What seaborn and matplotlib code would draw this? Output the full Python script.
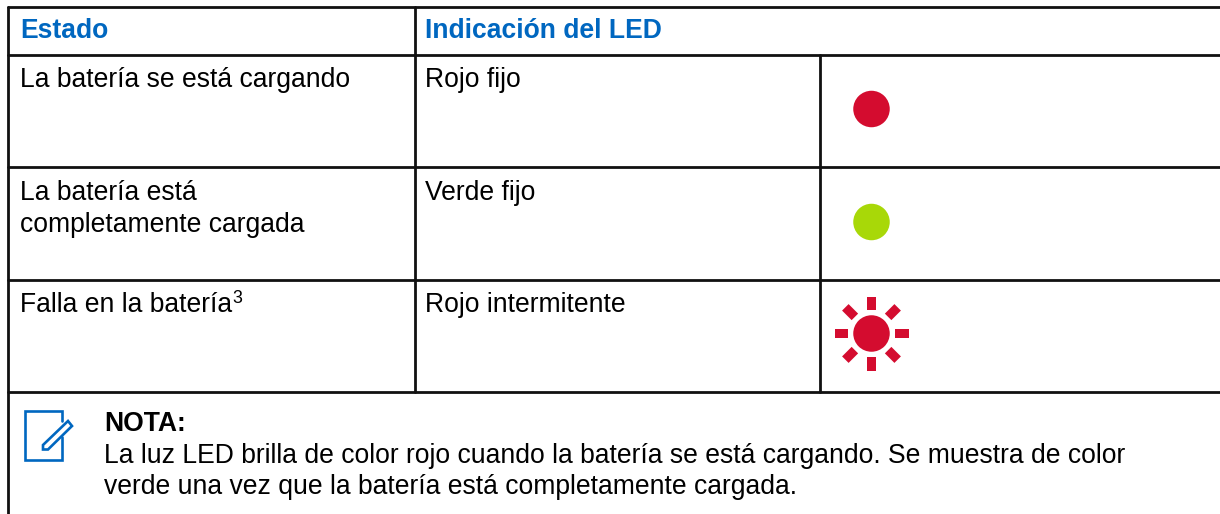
import numpy as np
import pandas as pd
import matplotlib
matplotlib.use("Agg")
import matplotlib.pyplot as plt
from matplotlib.patches import Polygon
from matplotlib.lines import Line2D
import seaborn as sns

headers = ["Estado", "Indicación del LED"]
estado = ["La batería se está cargando", "La batería está\ncompletamente cargada", "Falla en la batería"]
indicacion = ["Rojo fijo", "Verde fijo", "Rojo intermitente"]
led_colors = ["#D40C2F", "#A8D808", "#D40C2F"]
blinking = [False, False, True]
nota_title = "NOTA:"
nota_lines = ["La luz LED brilla de color rojo cuando la batería se está cargando. Se muestra de color",
              "verde una vez que la batería está completamente cargada."]

sns.set_theme(style="white")
plt.rcParams['font.family'] = ['Liberation Sans', 'DejaVu Sans']

W, H = 1220, 514
fig = plt.figure(figsize=(W/100, H/100), dpi=100)
ax = fig.add_axes([0, 0, 1, 1])

ink = "#111111"; blue = "#0067C0"
FS = 19.1
lw = 2.0

df = pd.DataFrame({"x": [871.5]*3, "y": [109, 222, 333.5], "state": ["a", "b", "c"]})
sns.scatterplot(data=df, x="x", y="y", hue="state", palette=led_colors, s=(36.5*0.72)**2,
                linewidth=0, legend=False, ax=ax, clip_on=False)
ax.set_xlim(0, W); ax.set_ylim(H, 0); ax.axis("off")

for y in [7, 55, 167, 280, 392]:
    ax.add_line(Line2D([8, W], [y, y], color=ink, lw=lw))
ax.add_line(Line2D([8, 8], [7, H], color=ink, lw=lw))
ax.add_line(Line2D([415, 415], [7, 392], color=ink, lw=lw))
ax.add_line(Line2D([820, 820], [55, 392], color=ink, lw=lw))

ax.text(20, 38.3, headers[0], color=blue, fontsize=FS, fontweight="bold", va="baseline")
ax.text(425, 38.3, headers[1], color=blue, fontsize=FS, fontweight="bold", va="baseline")

row_y = [87, 200.3, 312]
for i in range(3):
    parts = estado[i].split("\n")
    ax.text(20, row_y[i], parts[0], fontsize=FS, color="black", va="baseline")
    if len(parts) > 1:
        ax.text(20, row_y[i] + 32, parts[1], fontsize=FS, color="black", va="baseline")
    ax.text(425, row_y[i], indicacion[i], fontsize=FS, color="black", va="baseline")
ax.text(232.5, 303, "3", fontsize=FS*0.67, color="black", va="baseline")

for k, b in enumerate(blinking):
    if not b:
        continue
    c = np.array([df.x[k], df.y[k]])
    for a in np.arange(8) * np.pi / 4:
        u = np.array([np.cos(a), np.sin(a)]); v = np.array([-u[1], u[0]])
        r0, r1, hw = 23.5, 37, 4.6
        pts = [c+u*r0+v*hw, c+u*r1+v*hw, c+u*r1-v*hw, c+u*r0-v*hw]
        ax.add_patch(Polygon(pts, closed=True, fc=led_colors[k], ec="none"))

# note icon
ilw = 1.9
ax.add_line(Line2D([62, 62, 25, 25, 62, 62], [421, 411, 411, 459.5, 459.5, 437],
                   color=blue, lw=ilw, solid_joinstyle="miter"))
ax.add_patch(Polygon([[43, 445], [68, 421], [72, 426], [48, 449.5], [43, 449.5]],
                     closed=True, fc="white", ec=blue, lw=ilw, joinstyle="miter"))

ax.text(104, 431, nota_title, fontsize=FS, fontweight="bold", color="black", va="baseline")
ax.text(104, 462.7, nota_lines[0], fontsize=FS, color="black", va="baseline")
ax.text(104, 494, nota_lines[1], fontsize=FS, color="black", va="baseline")

fig.savefig("out.png", dpi=100)
